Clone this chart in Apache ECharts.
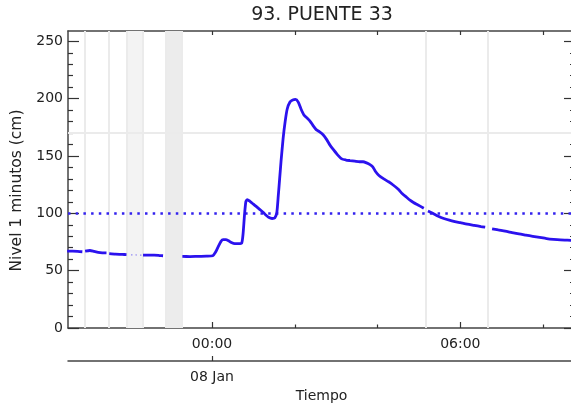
<!DOCTYPE html>
<html><head><meta charset="utf-8">
<script src="https://cdn.jsdelivr.net/npm/echarts@6/dist/echarts.min.js"></script>
<style>html,body{margin:0;padding:0;background:#fff}#c{width:571px;height:404px}</style>
</head><body><div id="c"></div>
<script>
// ---- data ----
const times = [
'2024-01-07 20:30','2024-01-07 20:38','2024-01-07 20:45','2024-01-07 20:52','2024-01-07 20:54',
'2024-01-07 20:56','2024-01-07 21:03','2024-01-07 21:09','2024-01-07 21:15','2024-01-07 21:21','2024-01-07 21:27','2024-01-07 21:29',
'2024-01-07 21:31','2024-01-07 21:40','2024-01-07 21:50','2024-01-07 21:56','2024-01-07 21:58',
'2024-01-07 22:20','2024-01-07 22:28','2024-01-07 22:36','2024-01-07 22:44','2024-01-07 22:49','2024-01-07 23:03',
'2024-01-07 23:17','2024-01-07 23:28','2024-01-07 23:40','2024-01-07 23:52',
'2024-01-08 00:01','2024-01-08 00:05','2024-01-08 00:09','2024-01-08 00:13','2024-01-08 00:16','2024-01-08 00:20','2024-01-08 00:24','2024-01-08 00:28','2024-01-08 00:33','2024-01-08 00:38','2024-01-08 00:43',
'2024-01-08 00:45','2024-01-08 00:47','2024-01-08 00:49','2024-01-08 00:51','2024-01-08 00:55','2024-01-08 01:00','2024-01-08 01:04','2024-01-08 01:09','2024-01-08 01:14','2024-01-08 01:18','2024-01-08 01:22','2024-01-08 01:27','2024-01-08 01:31',
'2024-01-08 01:34','2024-01-08 01:36','2024-01-08 01:38','2024-01-08 01:40','2024-01-08 01:43','2024-01-08 01:46','2024-01-08 01:49','2024-01-08 01:53','2024-01-08 01:57','2024-01-08 02:01','2024-01-08 02:05','2024-01-08 02:09','2024-01-08 02:13','2024-01-08 02:17','2024-01-08 02:22','2024-01-08 02:27','2024-01-08 02:31','2024-01-08 02:36','2024-01-08 02:41','2024-01-08 02:46','2024-01-08 02:51','2024-01-08 02:56',
'2024-01-08 03:02','2024-01-08 03:08','2024-01-08 03:14','2024-01-08 03:20','2024-01-08 03:27','2024-01-08 03:34','2024-01-08 03:39','2024-01-08 03:44','2024-01-08 03:49','2024-01-08 03:53','2024-01-08 03:57',
'2024-01-08 04:02','2024-01-08 04:09','2024-01-08 04:16','2024-01-08 04:23','2024-01-08 04:30','2024-01-08 04:36','2024-01-08 04:42','2024-01-08 04:47','2024-01-08 04:52','2024-01-08 04:58','2024-01-08 05:07','2024-01-08 05:10',
'2024-01-08 05:13','2024-01-08 05:20','2024-01-08 05:28','2024-01-08 05:36','2024-01-08 05:44','2024-01-08 05:52','2024-01-08 06:00','2024-01-08 06:10','2024-01-08 06:20','2024-01-08 06:30','2024-01-08 06:36','2024-01-08 06:41',
'2024-01-08 06:46','2024-01-08 06:55','2024-01-08 07:05','2024-01-08 07:15','2024-01-08 07:25','2024-01-08 07:35','2024-01-08 07:45','2024-01-08 07:55','2024-01-08 08:05','2024-01-08 08:15','2024-01-08 08:25','2024-01-08 08:35','2024-01-08 08:46'
];
const levels = [
67,67,66.8,66.5,null,
67,67.6,66.8,66,65.6,65.5,null,
64.8,64.4,64.2,64,null,
63.6,63.6,63.5,63.2,63,null,
62.4,62.3,62.5,62.6,
63,66,71,75.5,77,77,76,74.5,73.5,73.5,74,
82,98,110,112,110.5,108,106,103.5,101,98.5,96.5,95.5,96,
101,115,130,145,165,180,191,197,198.8,199.4,197,191,186,183.5,180.5,176,173,171,168.5,164.5,159.5,155.5,
151,147.5,146.5,146,145.5,145,145,144,142.5,140.5,136.5,
133,130,127.5,124.5,121,117,114,111.5,109.5,107.5,104.5,null,
102,100,97.5,95.5,94,92.8,91.8,90.5,89.5,88.5,88,null,
86.5,85.5,84.5,83.2,82,81,80,79,78,77.3,76.8,76.6,76.3
];
// sparse readings inside the first wide band
const sparseTimes = ['2024-01-07 21:56','2024-01-07 22:08','2024-01-07 22:20'];
const sparseLevels = [63.9,63.7,63.6];
const thresholdLevel = 100;
const greyLevel = 170;
const gapLines = ['2024-01-07 20:55','2024-01-07 21:30','2024-01-08 05:10','2024-01-08 06:39'];
const gapBands = [['2024-01-07 21:56','2024-01-07 22:20'],['2024-01-07 22:52','2024-01-07 23:16']];
const yTickValues = [0,50,100,150,200,250];
const yMinorValues = [10,20,30,40,60,70,80,90,110,120,130,140,160,170,180,190,210,220,230,240];
const xMajorHours = [0,6];
const xMinorHours = [-2,2,4,8];
const dateLabel = '08 Jan';
const titleText = '93. PUENTE 33';
const yName = 'Nivel 1 minutos (cm)';
const xName = 'Tiempo';

// ---- helpers ----
const REF = Date.UTC(2024,0,8,0,0);
function toH(s){
  const [d,t] = s.split(' ');
  const [Y,M,D] = d.split('-').map(Number);
  const [h,m] = t.split(':').map(Number);
  return (Date.UTC(Y,M-1,D,h,m) - REF)/3600000;
}
function hh(v){
  let h = ((Math.round(v) % 24) + 24) % 24;
  return (h<10?'0':'')+h+':00';
}
const mainData = times.map((t,i)=>[toH(t), levels[i]==null?'-':levels[i]]);
const sparseData = sparseTimes.map((t,i)=>[toH(t), sparseLevels[i]]);

const FONT = 'DejaVu Sans';
const XMIN = -3.48, XMAX = 8.77;
const axisCol = '#444';
const baseX = {type:'value', min:XMIN, max:XMAX, splitLine:{show:false}, gridIndex:0};
const baseY = {type:'value', min:0, max:259, splitLine:{show:false}, gridIndex:0};

const option = {
  animation:false,
  backgroundColor:'#fff',
  grid:{left:68, right:-4, top:31, bottom:76, containLabel:false, outerBoundsMode:'none'},
  graphic:[{type:'text', x:322, y:15.5, style:{text:titleText, font:'19px "'+FONT+'"', fill:'#222', textAlign:'center', textVerticalAlign:'middle'}}],
  xAxis:[
    Object.assign({}, baseX, {position:'bottom',
      axisLine:{show:true, onZero:false, lineStyle:{color:axisCol, width:1.5}},
      axisTick:{show:true, inside:true, length:6, customValues:xMajorHours, lineStyle:{color:'#333', width:1.2}},
      axisLabel:{show:true, customValues:xMajorHours, formatter:hh, margin:9.5, fontSize:14, fontFamily:FONT, color:'#222'}}),
    Object.assign({}, baseX, {position:'bottom',
      axisLine:{show:false, onZero:false},
      axisTick:{show:true, inside:true, length:3.5, customValues:xMinorHours, lineStyle:{color:'#333', width:1.2}},
      axisLabel:{show:false}}),
    Object.assign({}, baseX, {position:'top',
      axisLine:{show:true, onZero:false, lineStyle:{color:axisCol, width:1.5}},
      axisTick:{show:true, inside:true, length:4, customValues:xMinorHours.concat(xMajorHours), lineStyle:{color:'#333', width:1.2}},
      axisLabel:{show:false}}),
    Object.assign({}, baseX, {position:'bottom', offset:33,
      axisLine:{show:true, onZero:false, lineStyle:{color:axisCol, width:1.5}},
      axisTick:{show:true, inside:true, length:5, customValues:[0], lineStyle:{color:'#333', width:1.2}},
      axisLabel:{show:true, customValues:[0], formatter:()=>dateLabel, margin:9, fontSize:14, fontFamily:FONT, color:'#222'},
      name:xName, nameLocation:'middle', nameGap:25, nameTextStyle:{fontSize:14, fontFamily:FONT, color:'#222'}})
  ],
  yAxis:[
    Object.assign({}, baseY, {position:'left',
      axisLine:{show:true, onZero:false, lineStyle:{color:axisCol, width:1.5}},
      axisTick:{show:true, inside:true, length:11, customValues:yTickValues, lineStyle:{color:'#333', width:1.2}},
      axisLabel:{show:true, customValues:yTickValues, margin:5, fontSize:14, fontFamily:FONT, color:'#222'},
      name:yName, nameLocation:'middle', nameGap:41, nameTextStyle:{fontSize:15.5, fontFamily:FONT, color:'#222', padding:[0,22,0,0]}}),
    Object.assign({}, baseY, {position:'left',
      axisLine:{show:false, onZero:false},
      axisTick:{show:true, inside:true, length:5, customValues:yMinorValues, lineStyle:{color:'#333', width:1.2}},
      axisLabel:{show:false}}),
    Object.assign({}, baseY, {position:'right',
      axisLine:{show:true, onZero:false, lineStyle:{color:axisCol, width:1.5}},
      axisTick:{show:true, inside:true, length:11, customValues:yTickValues, lineStyle:{color:'#333', width:1.2}},
      axisLabel:{show:false}}),
    Object.assign({}, baseY, {position:'right',
      axisLine:{show:false, onZero:false},
      axisTick:{show:true, inside:true, length:5, customValues:yMinorValues, lineStyle:{color:'#333', width:1.2}},
      axisLabel:{show:false}})
  ],
  series:[
    {type:'line', xAxisIndex:0, yAxisIndex:0, data:[], silent:true, z:1,
      markArea:{silent:true, itemStyle:{color:'#f0f0f0'},
        data:gapBands.map((b,i)=>[{xAxis:toH(b[0]), itemStyle:{color:i===0?'#f3f3f3':'#ececec'}},{xAxis:toH(b[1])}])},
      markLine:{silent:true, symbol:['none','none'], label:{show:false},
        lineStyle:{color:'#ebebeb', width:2, type:'solid'},
        data:gapLines.map(t=>({xAxis:toH(t)})).concat([{yAxis:greyLevel}],
          gapBands.map(b=>({xAxis:toH(b[0])})), gapBands.map(b=>({xAxis:toH(b[1])})))}},
    {type:'line', xAxisIndex:0, yAxisIndex:0, data:[], silent:true, z:3,
      markLine:{silent:true, symbol:['none','none'], label:{show:false},
        lineStyle:{color:'#3322ee', width:2.5, type:[2.5,5.2]},
        data:[{yAxis:thresholdLevel}]}},
    {type:'line', xAxisIndex:0, yAxisIndex:0, data:sparseData, showSymbol:false, z:4,
      lineStyle:{color:'#6a5cf2', width:1.2, type:[1.5,3], opacity:0.7}},
    {type:'line', xAxisIndex:0, yAxisIndex:0, data:mainData, showSymbol:false, connectNulls:false, smooth:0.2, z:5,
      lineStyle:{color:'#2b12ee', width:2.8}}
  ]
};
const chart = echarts.init(document.getElementById('c'), null, {renderer:'canvas'});
chart.setOption(option);
</script></body></html>
